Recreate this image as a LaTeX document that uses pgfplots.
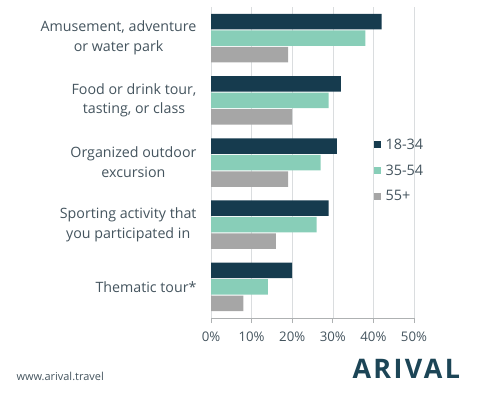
\documentclass[border=0pt]{standalone}
\usepackage{fontspec}
\setmainfont{Open Sans}
\usepackage{pgfplots}
\pgfplotsset{compat=1.18}
\definecolor{darkc}{HTML}{163B4E}
\definecolor{mintc}{HTML}{88CEB8}
\definecolor{grayc}{HTML}{A6A6A6}
\definecolor{txtc}{HTML}{44545E}
\definecolor{gridc}{HTML}{DADDDF}
\definecolor{logoc}{HTML}{1C4556}
\begin{document}
\begin{tikzpicture}[x=1bp,y=1bp]
\useasboundingbox (0,0) rectangle (496,399);
\begin{axis}[
  at={(211bp,81bp)}, anchor=south west,
  scale only axis, width=203bp, height=311bp,
  xmin=0, xmax=50, ymin=-0.5, ymax=4.5,
  xbar=1bp, bar width=15.5bp,
  ytick={0,1,2,3,4},
  yticklabels={{Thematic tour*},{Sporting activity that\\you participated in},{Organized outdoor\\excursion},{Food or drink tour,\\tasting, or class},{Amusement, adventure\\or water park}},
  yticklabel style={align=center, font=\fontsize{14.3}{20}\selectfont, text=txtc, xshift=-6bp},
  xtick={0,10,20,30,40,50},
  xticklabel={\pgfmathprintnumber{\tick}\%},
  xticklabel style={font=\fontsize{13.3}{16}\selectfont, text=txtc, yshift=-5bp},
  /pgf/number format/assume math mode=true,
  xmajorgrids, grid style={gridc, line width=0.6bp},
  axis x line*=bottom, axis y line*=left,
  x axis line style={draw=gridc!80!black, line width=0.7bp, -},
  y axis line style={draw=gridc, line width=0.5bp, -},
  tick align=outside, major tick length=5bp,
  xtick style={draw=gridc!80!black, line width=0.7bp},
  ytick style={draw=none},
  reverse legend,
  legend style={at={(0.785,0.59)}, anchor=north west, draw=none, fill=none,
    font=\fontsize{14.5}{17}\selectfont, text=txtc, row sep=10bp,
    /tikz/every odd column/.append style={column sep=3bp},
    /tikz/every even column/.append style={column sep=1bp}},
  legend image code/.code={\fill[#1] (0bp,-3.5bp) rectangle (7bp,3.5bp);},
  legend cell align=left,
]
\addplot[fill=grayc, draw=none] coordinates {(8,0) (16,1) (19,2) (20,3) (19,4)};
\addplot[fill=mintc, draw=none] coordinates {(14,0) (26,1) (27,2) (29,3) (38,4)};
\addplot[fill=darkc, draw=none] coordinates {(20,0) (29,1) (31,2) (32,3) (42,4)};
\legend{55+,35-54,18-34}
\end{axis}
\node[anchor=west, font=\fontsize{11}{13}\selectfont, text=txtc] at (13,23) {www.arival.travel};
\node[anchor=west, font=\fontsize{27}{30}\selectfont\addfontfeatures{LetterSpace=9}\bfseries, text=logoc] at (349,30) {ARIVAL};
\end{tikzpicture}
\end{document}
